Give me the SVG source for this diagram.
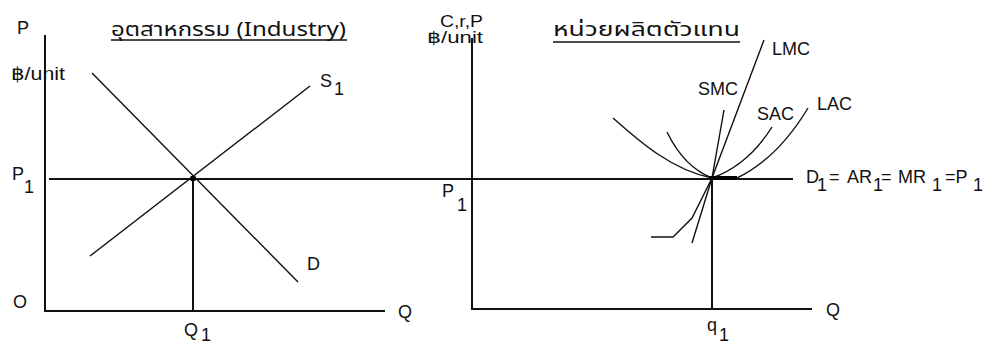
<svg xmlns="http://www.w3.org/2000/svg" width="1001" height="344" viewBox="0 0 1001 344">
<style>
.ax{fill:none;stroke:#111;stroke-width:2}
.ln{fill:none;stroke:#111;stroke-width:1.4}
.t{font-family:"Liberation Sans","DejaVu Sans","Noto Sans",sans-serif;font-size:18px;fill:#111}
.s{font-size:16px}
.th{font-family:"Noto Sans Thai","Loma","Garuda","Tlwg Typo","DejaVu Sans","Noto Sans",sans-serif;font-size:19px;fill:#111}
.ul{stroke:#111;stroke-width:1.5}
</style>
<rect width="1001" height="344" fill="#fff"/>
<g id="connectors">
<path class="ax" d="M49,179 H793" stroke="#333"/>
</g>
<g id="industry">
<path class="ax" d="M45,35 V311 H385"/>
<path class="ax" d="M193,179 V311"/>
<path class="ln" d="M92,73 L298,282"/>
<path class="ln" d="M90,256 L310,86"/>
<rect x="190.5" y="176" width="5" height="5" fill="#000"/>
<text class="th" x="111" y="36" textLength="235" lengthAdjust="spacingAndGlyphs">อุตสาหกรรม (Industry)</text>
<line class="ul" x1="111" y1="40" x2="347" y2="40"/>
<text class="t" x="17" y="34">P</text>
<text class="t" x="11" y="80" textLength="54" lengthAdjust="spacingAndGlyphs">฿/unit</text>
<text class="t" x="12" y="180">P</text><text class="t" x="24" y="193">1</text>
<text class="t" x="13" y="308">O</text>
<text class="t" x="398" y="318">Q</text>
<text class="t" x="184" y="336">Q</text><text class="t" x="201" y="341">1</text>
<text class="t" x="307" y="270">D</text>
<text class="t" x="320" y="87">S</text><text class="t" x="334" y="95">1</text>
</g>
<g id="firm">
<path class="ax" d="M472,38 V309 H812"/>
<path class="ax" d="M712,179 V309"/>
<path class="ln" d="M692,243 L712,178 L764,40"/>
<path class="ln" d="M651,237 H673 L692,218 L712,178 L724,110"/>
<path class="ln" d="M667,132 Q684,167 712,178 Q748,165 772,127"/>
<path class="ln" d="M613,118 C640,142 672,170 712,178 H737 Q778,158 808,108"/>
<rect x="709" y="176" width="28" height="4" fill="#000"/>
<text class="th" x="553" y="36" textLength="187" lengthAdjust="spacingAndGlyphs">หน่วยผลิตตัวแทน</text>
<line class="ul" x1="553" y1="42" x2="740" y2="42"/>
<text class="t s" x="440" y="27" textLength="43" lengthAdjust="spacingAndGlyphs">C,r,P</text>
<text class="t s" x="427" y="43" textLength="56" lengthAdjust="spacingAndGlyphs">฿/unit</text>
<text class="t" x="442" y="197">P</text><text class="t" x="457" y="211">1</text>
<text class="t" x="707" y="331">q</text><text class="t" x="719" y="341">1</text>
<text class="t" x="826" y="316">Q</text>
<text class="t" x="698" y="95">SMC</text>
<text class="t" x="772" y="55">LMC</text>
<text class="t" x="757" y="120">SAC</text>
<text class="t" x="817" y="110">LAC</text>
<text class="t" x="806" y="183">D</text><text class="t" x="817" y="191">1</text>
<text class="t" x="829" y="183">=</text>
<text class="t" x="847" y="183">AR</text><text class="t" x="873" y="191">1</text>
<text class="t" x="881" y="183">=</text>
<text class="t" x="898" y="183">MR</text><text class="t" x="932" y="191">1</text>
<text class="t" x="945" y="183">=P</text><text class="t" x="973" y="191">1</text>
</g>
</svg>
